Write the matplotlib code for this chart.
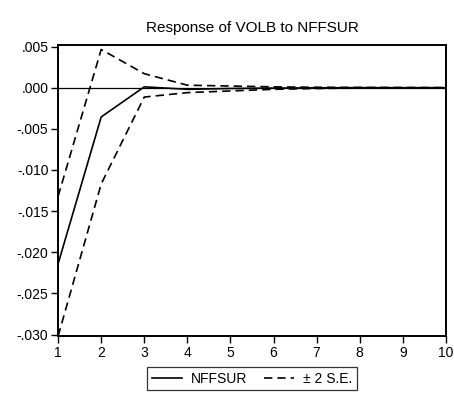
import matplotlib.pyplot as plt

plt.rcParams['font.family'] = ['Liberation Sans', 'DejaVu Sans']

periods = [1, 2, 3, 4, 5, 6, 7, 8, 9, 10]
response = [-0.0214, -0.00356, 0.0001, -0.0002, -0.0001, -0.00005, -0.00002, 0.0, 0.0, 0.0]
upper = [-0.0132, 0.00464, 0.0017, 0.0003, 0.0002, 0.0001, 0.00005, 0.00003, 0.00002, 0.00001]
lower = [-0.0302, -0.0117, -0.00114, -0.0006, -0.0004, -0.0002, -0.0001, -0.00005, -0.00003, -0.00002]

fig = plt.figure(figsize=(4.54, 4.08), dpi=100)
ax = fig.add_axes([0.128, 0.176, 0.854, 0.714])

ax.axhline(0, color='black', linewidth=0.9)
l1, = ax.plot(periods, response, color='black', linewidth=1.2, label='NFFSUR')
l2, = ax.plot(periods, upper, color='black', linewidth=1.2, dashes=(5, 3), label='± 2 S.E.')
ax.plot(periods, lower, color='black', linewidth=1.2, dashes=(5, 3))

ax.set_xlim(1, 10)
ax.set_ylim(-0.0302, 0.0052)
ax.set_xticks(periods)
ax.set_yticks([0.005, 0.0, -0.005, -0.010, -0.015, -0.020, -0.025, -0.030])
ax.set_yticklabels(['.005', '.000', '-.005', '-.010', '-.015', '-.020', '-.025', '-.030'])
ax.tick_params(direction='out', length=5, width=1, labelsize=10, pad=2)
for s in ax.spines.values():
    s.set_linewidth(1.4)

ax.set_title('Response of VOLB to NFFSUR', fontsize=11, pad=9)

fig.legend(handles=[l1, l2], loc='center', bbox_to_anchor=(0.555, 0.072), ncol=2,
           fontsize=10, frameon=True, fancybox=False, edgecolor='black',
           handlelength=2.2, handletextpad=0.6, columnspacing=1.2, borderpad=0.35)
leg = fig.legends[0]
leg.get_frame().set_linewidth(0.9)

fig.savefig('out.png', dpi=100)
